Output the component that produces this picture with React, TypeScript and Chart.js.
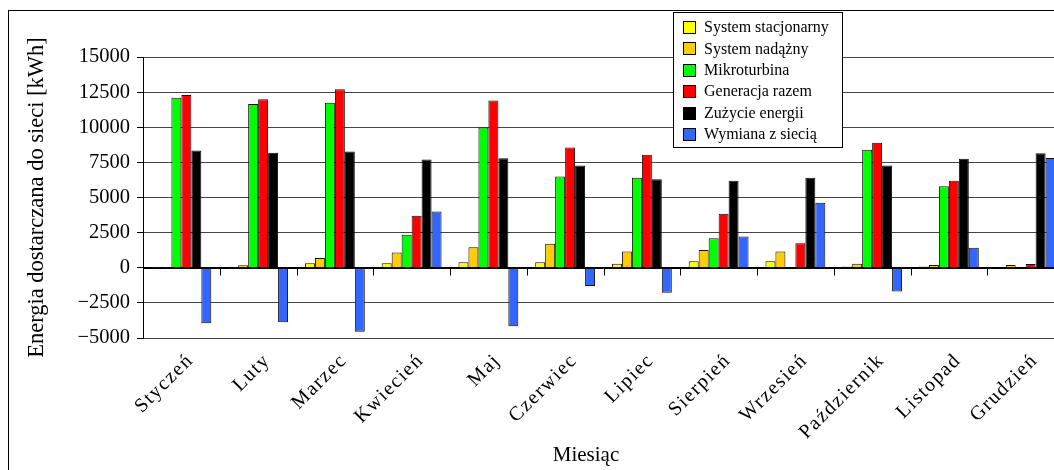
import React, { useEffect, useRef } from "react";
import { Chart, registerables } from "chart.js";

Chart.register(...registerables);

const months = [
  "Styczeń", "Luty", "Marzec", "Kwiecień", "Maj", "Czerwiec",
  "Lipiec", "Sierpień", "Wrzesień", "Październik", "Listopad", "Grudzień",
];

const seriesNames = [
  "System stacjonarny",
  "System nadążny",
  "Mikroturbina",
  "Generacja razem",
  "Zużycie energii",
  "Wymiana z siecią",
];

const seriesColors = ["#FFFF00", "#FFCC00", "#00FF00", "#FF0000", "#000000", "#3366FF"];

const systemStacjonarny = [60, 70, 320, 320, 400, 400, 280, 470, 470, 90, 90, 0];
const systemNadazny = [60, 180, 700, 1080, 1460, 1700, 1150, 1260, 1150, 280, 190, 190];
const mikroturbina = [12100, 11650, 11750, 2350, 9980, 6500, 6400, 2100, 0, 8400, 5800, 0];
const generacjaRazem = [12300, 12000, 12700, 3700, 11900, 8550, 8050, 3850, 1750, 8900, 6200, 270];
const zuzycieEnergii = [8350, 8180, 8270, 7700, 7800, 7270, 6300, 6200, 6400, 7270, 7750, 8150];
const wymianaZSiecia = [-3950, -3880, -4550, 4000, -4170, -1300, -1780, 2220, 4620, -1690, 1430, 7820];

const yMin = -5000;
const yMax = 15000;
const yStep = 2500;

const yTitle = "Energia dostarczana do sieci [kWh]";
const xTitle = "Miesiąc";

const SERIF = "'Liberation Serif', 'Times New Roman', serif";

const CANVAS_W = 1080;
const CANVAS_H = 470;

const framePlugin = {
  id: "framePlugin",
  beforeDraw(chart: any) {
    const ctx = chart.ctx;
    ctx.save();
    ctx.fillStyle = "#ffffff";
    ctx.fillRect(0, 0, chart.width, chart.height);
    ctx.strokeStyle = "#000";
    ctx.lineWidth = 1;
    ctx.strokeRect(8.5, 10.5, chart.width + 20, chart.height + 20);
    ctx.restore();
  },
  afterDatasetsDraw(chart: any) {
    const ctx = chart.ctx;
    const x = chart.scales.x;
    const y = chart.scales.y;
    const zeroY = Math.round(y.getPixelForValue(0)) + 0.5;
    const n = chart.data.labels.length;
    const w = (x.right - x.left) / n;
    ctx.save();
    ctx.strokeStyle = "#000";
    ctx.lineWidth = 1;
    ctx.beginPath();
    ctx.moveTo(x.left, zeroY);
    ctx.lineTo(x.right, zeroY);
    for (let i = 1; i < n; i++) {
      const px = Math.round(x.left + i * w) + 0.5;
      ctx.moveTo(px, zeroY);
      ctx.lineTo(px, zeroY + 7);
    }
    ctx.stroke();
    ctx.restore();
  },
  afterDraw(chart: any) {
    const ctx = chart.ctx;
    ctx.save();
    // x axis title
    ctx.fillStyle = "#000";
    ctx.font = `21px ${SERIF}`;
    ctx.textAlign = "center";
    ctx.textBaseline = "middle";
    ctx.fillText(xTitle, 586, 455);

    // legend
    const lx = 673.5;
    const ly = 12.5;
    const lw = 169;
    const lh = 135;
    ctx.fillStyle = "#fff";
    ctx.fillRect(lx, ly, lw, lh);
    ctx.strokeStyle = "#000";
    ctx.lineWidth = 1;
    ctx.strokeRect(lx, ly, lw, lh);
    ctx.font = `16px ${SERIF}`;
    ctx.textAlign = "left";
    ctx.textBaseline = "middle";
    chart.data.datasets.forEach((ds: any, i: number) => {
      const cy = 28 + i * 21.4;
      ctx.fillStyle = ds.backgroundColor;
      ctx.fillRect(684, Math.round(cy - 6), 11, 11);
      ctx.strokeStyle = "#000";
      ctx.strokeRect(683.5, Math.round(cy - 6) - 0.5, 12, 12);
      ctx.fillStyle = "#000";
      ctx.fillText(ds.label, 704, cy);
    });
    ctx.restore();
  },
};

export default function App() {
  const canvasRef = useRef<HTMLCanvasElement | null>(null);

  useEffect(() => {
    const canvas = canvasRef.current;
    if (!canvas) return;
    const seriesData = [
      systemStacjonarny,
      systemNadazny,
      mikroturbina,
      generacjaRazem,
      zuzycieEnergii,
      wymianaZSiecia,
    ];
    const chart = new Chart(canvas, {
      type: "bar",
      data: {
        labels: months,
        datasets: seriesNames.map((name, i) => ({
          label: name,
          data: seriesData[i],
          backgroundColor: seriesColors[i],
          borderColor: "#111",
          borderWidth: 1,
          categoryPercentage: 0.78,
          barPercentage: 1.0,
        })),
      },
      options: {
        responsive: false,
        animation: false,
        devicePixelRatio: 1,
        layout: { padding: { left: 0, right: CANVAS_W - 1064, top: 57, bottom: 0 } },
        plugins: {
          legend: { display: false },
          tooltip: { enabled: false },
        },
        scales: {
          x: {
            grid: { display: false, drawTicks: false },
            border: { display: false },
            ticks: {
              color: "#000",
              font: { family: SERIF, size: 20 },
              maxRotation: 45,
              minRotation: 45,
              autoSkip: false,
              padding: 11,
              labelOffset: 9,
            },
            afterFit(scale: any) {
              scale.height = CANVAS_H - 338;
            },
            afterUpdate(scale: any) {
              if (!scale.__lsWrapped) {
                const orig = scale.drawLabels.bind(scale);
                scale.drawLabels = (area: any) => {
                  const ctx = scale.ctx;
                  const prev = ctx.letterSpacing;
                  ctx.letterSpacing = "1.5px";
                  orig(area);
                  ctx.letterSpacing = prev || "0px";
                };
                scale.__lsWrapped = true;
              }
            },
          },
          y: {
            min: yMin,
            max: yMax,
            grid: {
              color: (c: any) => (c.tick && c.tick.value === 0 ? "#000" : "#444"),
              tickColor: "#000",
              tickLength: 6,
              lineWidth: 1,
            },
            border: { display: true, color: "#000", width: 1 },
            ticks: {
              stepSize: yStep,
              color: "#000",
              font: { family: SERIF, size: 20.5 },
              padding: 7,
              callback: (v: any) => (Number(v) < 0 ? "\u2212" + Math.abs(Number(v)) : String(v)),
            },
            title: {
              display: true,
              text: yTitle,
              color: "#000",
              font: { family: SERIF, size: 22.5 },
              padding: { top: 24, bottom: 0 },
            },
            afterFit(scale: any) {
              scale.width = 143;
            },
          },
        },
      },
      plugins: [framePlugin],
    } as any);
    return () => chart.destroy();
  }, []);

  return (
    <div
      style={{
        position: "fixed",
        left: 0,
        top: 0,
        width: 1054,
        height: 470,
        overflow: "hidden",
        background: "#fff",
      }}
    >
      <canvas ref={canvasRef} width={CANVAS_W} height={CANVAS_H} style={{ display: "block" }} />
    </div>
  );
}
